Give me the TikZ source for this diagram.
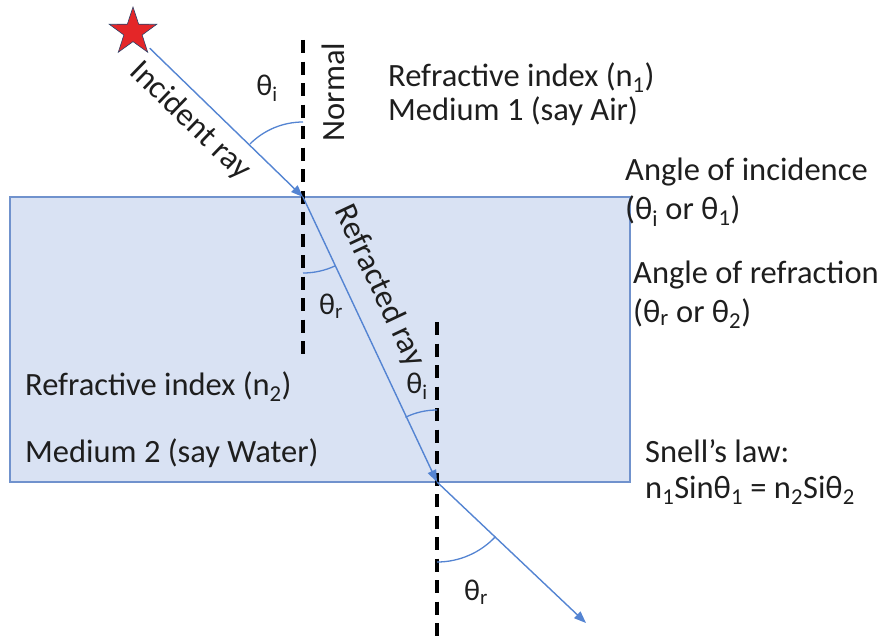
\documentclass[tikz,border=0pt]{standalone}
\usepackage{fontspec}
\setmainfont{Carlito}
\usepackage{xcolor}
\usetikzlibrary{positioning,arrows.meta,shapes.geometric}
\definecolor{rayblue}{RGB}{84,132,210}
\definecolor{waterfill}{RGB}{217,226,243}
\definecolor{waterline}{RGB}{112,146,205}
\definecolor{starred}{RGB}{228,38,40}
\definecolor{txt}{RGB}{30,30,30}
\newcommand{\thsub}[1]{θ\textsubscript{#1}}

\begin{document}
\begin{tikzpicture}[x=1pt,y=-1pt,
    lbl/.style={anchor=base west,inner sep=0pt,text=txt,font=\fontsize{32.5}{38}\selectfont},
    angtxt/.style={inner sep=0pt,text=txt,font=\fontsize{30}{36}\selectfont},
    raytxt/.style={inner sep=0pt,text=txt,font=\fontsize{32.5}{38}\selectfont},
    ray/.style={-{Triangle[length=12pt,width=9pt]},draw=rayblue,line width=1.4pt},
    normalline/.style={draw=black,line width=3.5pt,dash pattern=on 13pt off 8.5pt},
    anglearc/.style={draw=rayblue,line width=1.3pt}
]
\useasboundingbox (0,0) rectangle (885,642);
\draw[fill=waterfill,draw=waterline,line width=1.5pt] (10,197) rectangle (630,482);

\node[star,star points=5,star point ratio=2.6,fill=starred,draw=rayblue!50!black,
      line width=0.6pt,minimum size=50pt,inner sep=0pt] (src) at (133,32) {};
\coordinate (hit)    at (303,197);
\coordinate (exitpt) at (437,482);
\coordinate (rayend) at (586,623);
\coordinate (n1top)  at (303,40);
\coordinate (n1bot)  at (303,355);
\coordinate (n2top)  at (437,322);
\coordinate (n2bot)  at (437,642);

\draw[normalline] (n1top) -- (n1bot);
\draw[normalline] (n2top) -- (n2bot);

\draw[ray,shorten <=6pt] (src) -- (hit);
\draw[ray] (hit) -- (exitpt);
\draw[ray] (exitpt) -- (rayend);

\draw[anglearc] ([shift={(90:75pt)}]hit) arc[start angle=90,end angle=135,radius=75pt];
\draw[anglearc] ([shift={(270:76pt)}]hit) arc[start angle=270,end angle=295,radius=76pt];
\draw[anglearc] ([shift={(90:72pt)}]exitpt) arc[start angle=90,end angle=116,radius=72pt];
\draw[anglearc] ([shift={(270:80pt)}]exitpt) arc[start angle=270,end angle=317,radius=80pt];

\node[angtxt] (thtop) at (267,88)  {\thsub{i}};
\node[angtxt] (thin)  at (331,306) {\thsub{r}};
\node[angtxt] (thlow) at (417,386) {\thsub{i}};
\node[angtxt] (thout) at (476,592) {\thsub{r}};

\node[raytxt,rotate=-44]   (inclbl) at (190,121) {Incident ray};
\node[raytxt,rotate=-64.8] (reflbl) at (379,286) {Refracted ray};
\node[raytxt,rotate=90]    (nrmlbl) at (333,92)  {Normal};

\node[lbl] (idx1)  at (388,86)  {Refractive index (n\textsubscript{1})};
\node[lbl] (med1)  at (388,120) {Medium 1 (say Air)};
\node[lbl] (inc)   at (625,180) {Angle of incidence};
\node[lbl] (incth) at (625,219) {(\thsub{i} or \thsub{1})};
\node[lbl] (rfr)   at (633,283) {Angle of refraction};
\node[lbl] (rfrth) at (633,322) {(\thsub{r} or \thsub{2})};
\node[lbl] (idx2)  at (25,395)  {Refractive index (n\textsubscript{2})};
\node[lbl] (med2)  at (25,462)  {Medium 2 (say Water)};
\node[lbl] (snell) at (645,462) {Snell’s law:};
\node[lbl] (law)   at (645,498) {n\textsubscript{1}Sin\thsub{1} = n\textsubscript{2}Si\thsub{2}};
\end{tikzpicture}
\end{document}
